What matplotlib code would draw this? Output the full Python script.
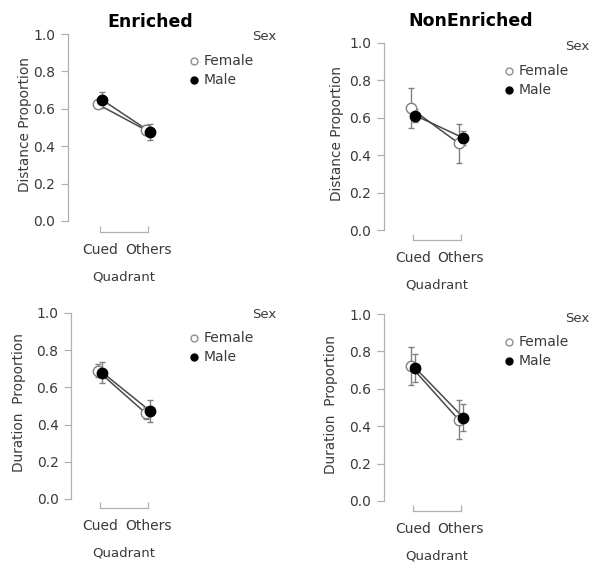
import matplotlib
matplotlib.use("Agg")
import matplotlib.pyplot as plt
from matplotlib.lines import Line2D
import numpy as np

plt.rcParams['font.family'] = ['DejaVu Sans']

W, H = 591, 565

categories = ["Cued", "Others"]
sexes = ["Female", "Male"]
group_titles = ["Enriched", "NonEnriched"]
y_labels = ["Distance Proportion", "Duration  Proportion"]
y_ticks = [0.0, 0.2, 0.4, 0.6, 0.8, 1.0]

# Means and error half-widths, [Cued, Others]
enr_dist_female = [0.625, 0.487]
enr_dist_female_err = [0.02, 0.025]
enr_dist_male = [0.647, 0.476]
enr_dist_male_err = [0.045, 0.045]

non_dist_female = [0.652, 0.464]
non_dist_female_err = [0.105, 0.105]
non_dist_male = [0.612, 0.492]
non_dist_male_err = [0.035, 0.04]

enr_dur_female = [0.690, 0.462]
enr_dur_female_err = [0.035, 0.03]
enr_dur_male = [0.680, 0.472]
enr_dur_male_err = [0.058, 0.058]

non_dur_female = [0.722, 0.435]
non_dur_female_err = [0.103, 0.103]
non_dur_male = [0.711, 0.446]
non_dur_male_err = [0.073, 0.073]

SPINE = "#b0b0b0"
GREY = "#808080"
TXT = "#3a3a3a"
LINE = "#4a4a4a"

fig = plt.figure(figsize=(W / 100, H / 100), dpi=100)


def fx(x):
    return x / W


def fy(y):
    return 1 - y / H


# pixel layout of each panel: y-spine x, y of 0.0, y of 1.0, x of Cued, x of Others, bracket y
panels = [
    dict(sx=68, y0=221, y1=34, cx=100, ox=148, by=232, title=group_titles[0],
         ylab=y_labels[0], ylx=25,
         f=enr_dist_female, fe=enr_dist_female_err, m=enr_dist_male, me=enr_dist_male_err,
         tlx=150, tly=22, sexx=276, sexy=37, legx=194, legy=61),
    dict(sx=384, y0=230, y1=43, cx=413, ox=461, by=240, title=group_titles[1],
         ylab=y_labels[0], ylx=337,
         f=non_dist_female, fe=non_dist_female_err, m=non_dist_male, me=non_dist_male_err,
         tlx=471, tly=21, sexx=589, sexy=47, legx=509, legy=71),
    dict(sx=71, y0=499, y1=313, cx=100, ox=148, by=508, title=None,
         ylab=y_labels[1], ylx=19,
         f=enr_dur_female, fe=enr_dur_female_err, m=enr_dur_male, me=enr_dur_male_err,
         tlx=None, tly=None, sexx=276, sexy=315, legx=194, legy=338),
    dict(sx=384, y0=501, y1=314, cx=413, ox=461, by=511, title=None,
         ylab=y_labels[1], ylx=331,
         f=non_dur_female, fe=non_dur_female_err, m=non_dur_male, me=non_dur_male_err,
         tlx=None, tly=None, sexx=589, sexy=318, legx=509, legy=342),
]

dodge = 0.05
xpos = np.arange(len(categories))

for p in panels:
    scale = p["y0"] - p["y1"]          # pixels per unit on y
    spacing = p["ox"] - p["cx"]        # pixels per category step
    ylo = -(p["by"] - p["y0"]) / scale
    yhi = 1.03
    top_px = p["y0"] - yhi * scale
    xlo = (p["sx"] - p["cx"]) / spacing
    width_px = 200
    xhi = xlo + width_px / spacing

    ax = fig.add_axes([fx(p["sx"]), fy(p["by"]), width_px / W, (p["by"] - top_px) / H])
    ax.set_xlim(xlo, xhi)
    ax.set_ylim(ylo, yhi)
    ax.patch.set_alpha(0)

    for s in ["top", "right"]:
        ax.spines[s].set_visible(False)
    ax.spines["left"].set_bounds(0, 1)
    ax.spines["bottom"].set_bounds(0, 1)
    for s in ["left", "bottom"]:
        ax.spines[s].set_color(SPINE)
        ax.spines[s].set_linewidth(0.9)

    ax.set_yticks(y_ticks)
    ax.set_yticklabels([f"{v:.1f}" for v in y_ticks])
    ax.set_xticks(xpos)
    ax.set_xticklabels(categories)
    ax.tick_params(axis="y", direction="out", length=5, width=0.9, color=SPINE,
                   labelsize=10, labelcolor=TXT, pad=4)
    ax.tick_params(axis="x", direction="in", length=4, width=0.9, color=SPINE,
                   labelsize=10, labelcolor=TXT, pad=8)

    xf = xpos - dodge
    xm = xpos + dodge
    ax.plot(xf, p["f"], color=LINE, lw=1.1, zorder=2)
    ax.plot(xm, p["m"], color=LINE, lw=1.1, zorder=2)
    ax.errorbar(xf, p["f"], yerr=p["fe"], fmt="none", ecolor=GREY, elinewidth=1.0,
                capsize=2.5, capthick=1.0, zorder=3)
    ax.errorbar(xm, p["m"], yerr=p["me"], fmt="none", ecolor=GREY, elinewidth=1.0,
                capsize=2.5, capthick=1.0, zorder=3)
    ax.plot(xf, p["f"], ls="none", marker="o", ms=7.5, mfc="white", mec="#808080",
            mew=1.0, zorder=4)
    ax.plot(xm, p["m"], ls="none", marker="o", ms=7.5, mfc="black", mec="black",
            mew=1.0, zorder=5)

    # axis titles
    qx = (p["cx"] + p["ox"]) / 2
    fig.text(fx(qx), fy(p["by"] + 45), "Quadrant", ha="center", va="center",
             fontsize=9.5, color=TXT)
    fig.text(fx(p["ylx"]), fy((p["y0"] + p["y1"]) / 2 - 3), p["ylab"], ha="center",
             va="center", rotation=90, fontsize=9.8, color=TXT)

    if p["title"]:
        fig.text(fx(p["tlx"]), fy(p["tly"]), p["title"], ha="center", va="center",
                 fontsize=12.5, fontweight="bold", color="black")

    # legend
    fig.text(fx(p["sexx"]), fy(p["sexy"]), "Sex", ha="right", va="center",
             fontsize=9.5, color=TXT)
    for i, (lab, fc, ec) in enumerate([("Female", "white", "#909090"),
                                       ("Male", "black", "black")]):
        yy = p["legy"] + 19 * i
        fig.add_artist(Line2D([fx(p["legx"])], [fy(yy)], transform=fig.transFigure,
                              ls="none", marker="o", ms=5, mfc=fc, mec=ec, mew=1.0))
        fig.text(fx(p["legx"] + 10), fy(yy), lab, ha="left", va="center",
                 fontsize=10, color=TXT)

fig.savefig("out.png", dpi=100)
